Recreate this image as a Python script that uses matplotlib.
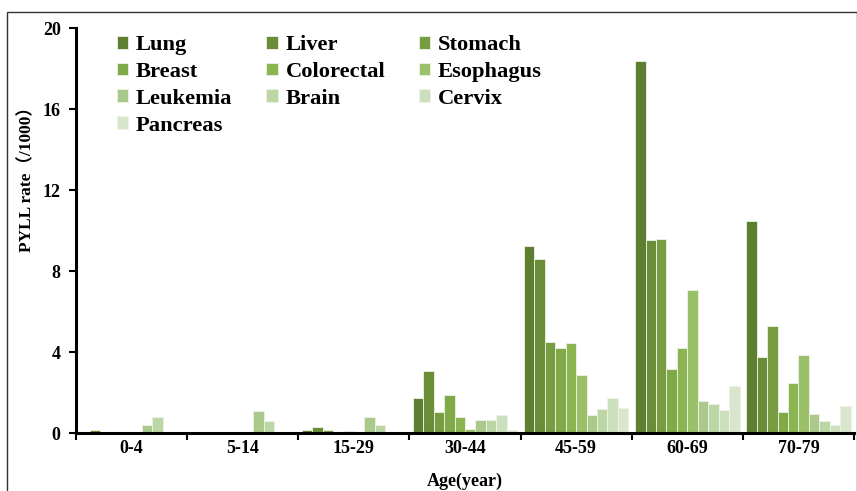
import numpy as np
import matplotlib.pyplot as plt
from matplotlib.patches import Rectangle

ages = ['0-4', '5-14', '15-29', '30-44', '45-59', '60-69', '70-79']
cancers = ['Lung', 'Liver', 'Stomach', 'Breast', 'Colorectal', 'Esophagus',
           'Leukemia', 'Brain', 'Cervix', 'Pancreas']

# PYLL rate (/1000) per age group, one list per cancer site
lung       = [0.00, 0.00, 0.15, 1.76, 9.24, 18.40, 10.50]
liver      = [0.16, 0.00, 0.31, 3.10, 8.63, 9.54, 3.75]
stomach    = [0.00, 0.00, 0.16, 1.06, 4.52, 9.60, 5.31]
breast     = [0.00, 0.00, 0.08, 1.91, 4.22, 3.18, 1.05]
colorectal = [0.00, 0.00, 0.11, 0.79, 4.46, 4.22, 2.46]
esophagus  = [0.00, 0.00, 0.00, 0.23, 2.90, 7.08, 3.86]
leukemia   = [0.40, 1.09, 0.79, 0.66, 0.92, 1.62, 0.94]
brain      = [0.81, 0.61, 0.41, 0.65, 1.19, 1.45, 0.61]
cervix     = [0.00, 0.00, 0.00, 0.92, 1.75, 1.17, 0.43]
pancreas   = [0.00, 0.00, 0.00, 0.18, 1.25, 2.33, 1.34]

series = [lung, liver, stomach, breast, colorectal, esophagus,
          leukemia, brain, cervix, pancreas]
colors = ['#5e7f31', '#6a8e38', '#789c42', '#80a947', '#8bb550', '#9bc06a',
          '#aac98b', '#bcd6a6', '#cde0bd', '#d9e5cc']

plt.rcParams['font.family'] = ['Liberation Serif', 'Noto Sans CJK SC']
plt.rcParams['font.weight'] = 'bold'

fig = plt.figure(figsize=(8.57, 4.91), dpi=100)
ax = fig.add_axes([0.0887, 0.1175, 0.9078, 0.8249])

x = np.arange(len(ages))
n = len(series)
bw = 0.94 / n
bars = []
for i, (vals, c) in enumerate(zip(series, colors)):
    b = ax.bar(x - 0.47 + bw * (i + 0.5), vals, width=bw, color=c,
               edgecolor='#eef3e6', linewidth=0.6, label=cancers[i])
    bars.append(b)

ax.set_xlim(-0.5, len(ages) - 0.5)
ax.set_ylim(0, 20)
ax.set_yticks([0, 4, 8, 12, 16, 20])

# group boundaries as ticks, names centred between them
ax.set_xticks(np.arange(len(ages) + 1) - 0.5)
ax.set_xticklabels([])
ax.set_xticks(x, minor=True)
ax.set_xticklabels(ages, minor=True, fontsize=13, fontweight='bold')
ax.tick_params(axis='x', which='minor', length=0, pad=5)
ax.tick_params(axis='x', which='major', length=5, width=1.5, direction='out')
ax.tick_params(axis='y', length=5, width=1.5, labelsize=13, pad=6)

for s in ['top', 'right']:
    ax.spines[s].set_visible(False)
for s in ['left', 'bottom']:
    ax.spines[s].set_linewidth(2.2)

ax.set_xlabel('Age(year)', fontsize=13, fontweight='bold', labelpad=11)
ax.set_ylabel('PYLL rate（/1000）', fontsize=12.5, fontweight='bold')
ax.yaxis.set_label_coords(-0.053, 0.638)

# legend laid out row by row
order = [0, 3, 6, 9, 1, 4, 7, 2, 5, 8]
ax.legend([bars[k] for k in order], [cancers[k] for k in order], ncol=3,
          loc='upper left', bbox_to_anchor=(0.041, 1.005), frameon=False,
          prop={'size': 16.2, 'weight': 'bold'}, handlelength=0.5,
          handleheight=0.5, handletextpad=0.35, columnspacing=1.5,
          labelspacing=0.3, borderaxespad=0)

fig.patches.append(Rectangle((7.5 / 857, -0.1), 849 / 857, 1.1 - 12 / 491,
                             transform=fig.transFigure, fill=False,
                             edgecolor='#333333', linewidth=1.0))

fig.savefig('out.png', dpi=100)
